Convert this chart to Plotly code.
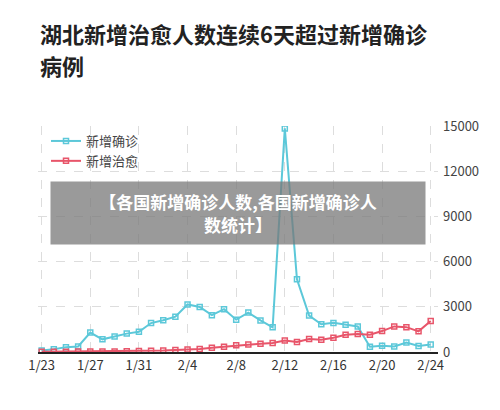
import plotly.graph_objects as go

dates = ["1/23","1/24","1/25","1/26","1/27","1/28","1/29","1/30","1/31","2/1","2/2","2/3","2/4","2/5","2/6","2/7","2/8","2/9","2/10","2/11","2/12","2/13","2/14","2/15","2/16","2/17","2/18","2/19","2/20","2/21","2/22","2/23","2/24"]
confirmed = [105,180,323,371,1291,840,1032,1220,1347,1921,2103,2345,3156,2987,2447,2841,2147,2618,2097,1638,14840,4823,2420,1843,1933,1807,1693,349,411,366,630,398,499]
healed = [10,15,20,25,30,35,40,45,60,80,100,130,160,200,280,350,450,500,550,600,770,660,860,820,950,1150,1200,1150,1390,1700,1650,1370,2050]
tick_labels = ["1/23","1/27","1/31","2/4","2/8","2/12","2/16","2/20","2/24"]
y_ticks = [0,3000,6000,9000,12000,15000]
title_lines = ["湖北新增治愈人数连续6天超过新增确诊", "病例"]

fig = go.Figure()
fig.add_trace(go.Scatter(x=dates, y=confirmed, name="新增确诊", mode="lines+markers",
    line=dict(color="#5cc8d9", width=2), marker=dict(symbol="square-open", size=5, color="#5cc8d9", line=dict(width=1.5))))
fig.add_trace(go.Scatter(x=dates, y=healed, name="新增治愈", mode="lines+markers",
    line=dict(color="#e8556a", width=2), marker=dict(symbol="square-open", size=5, color="#e8556a", line=dict(width=1.5))))

fig.update_layout(
    width=500, height=410, margin=dict(l=30, r=70, t=118, b=66),
    paper_bgcolor="white", plot_bgcolor="white",
    font=dict(family="Noto Sans CJK SC", color="#333"),
    legend=dict(x=0.02, y=1.0, xanchor="left", yanchor="top", font=dict(size=13, color="#444"), bgcolor="rgba(0,0,0,0)"),
    showlegend=True,
    xaxis=dict(type="category", tickvals=tick_labels, ticktext=tick_labels, showgrid=True, gridcolor="#ddd", griddash="dash",
               showline=True, linecolor="#222", linewidth=2, tickfont=dict(size=13, color="#333"), range=[-0.3, 32.6], ticks=""),
    yaxis=dict(side="right", range=[0, 15000], tickvals=y_ticks, ticktext=[str(v) for v in y_ticks], showgrid=True, gridcolor="#ddd", griddash="dash",
               zeroline=False, tickfont=dict(size=13, color="#444"), ticks="", ticklabelstandoff=4),
)
for i, line in enumerate(title_lines):
    fig.add_annotation(xref="paper", yref="paper", x=0.0, y=(344 - 25 - 32 * i) / 226, xanchor="left", yanchor="middle",
        text="<b>" + line + "</b>", showarrow=False, align="left", font=dict(size=22, color="#222"))
fig.add_annotation(xref="paper", yref="paper", x=0.5, y=0.615, xanchor="center", yanchor="middle",
    text="<b>【各国新增确诊人数,各国新增确诊人<br>数统计】</b>", showarrow=False,
    font=dict(size=17, color="white"), bgcolor="rgba(120,120,120,0.75)", width=372, height=60, align="center")
fig.write_html("out.html")
